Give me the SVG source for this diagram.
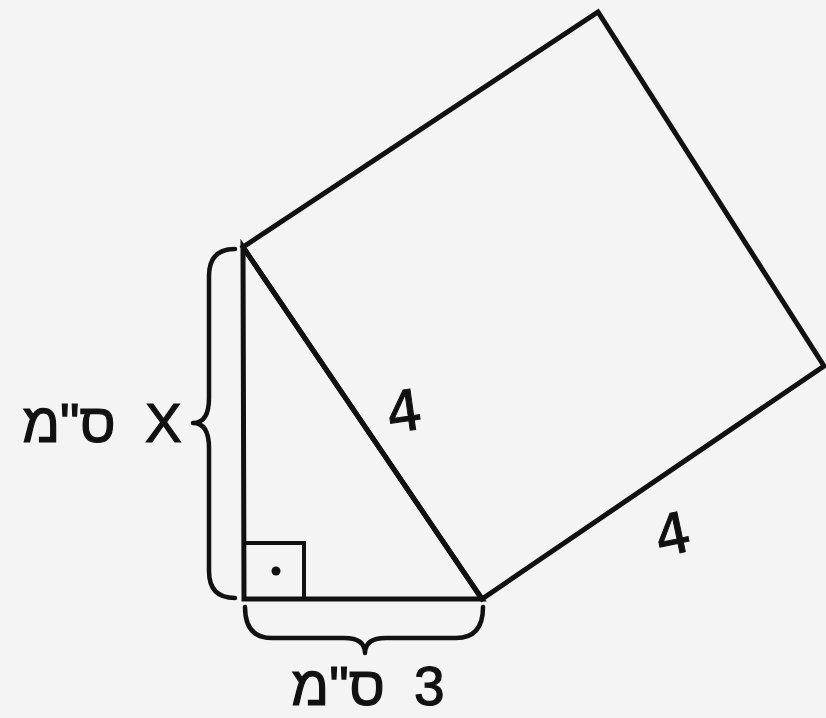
<svg xmlns="http://www.w3.org/2000/svg" width="826" height="718" viewBox="0 0 826 718">
<style>
.ln{fill:none;stroke:#111;stroke-width:5;stroke-linejoin:miter;stroke-linecap:round}
.br{fill:none;stroke:#111;stroke-width:4.5;stroke-linecap:round;stroke-linejoin:round}
.lbl{font-family:"Liberation Sans","DejaVu Sans",sans-serif;font-size:55px;fill:#111;stroke:#111;stroke-width:1.2}
.hand{font-family:"DejaVu Sans","Liberation Sans",sans-serif;font-size:56px;fill:#111;stroke:#111;stroke-width:1}
</style>
<rect x="0" y="0" width="826" height="718" fill="#f5f4f5"/>
<g id="square">
<polygon class="ln" points="243,247 598,12 824,366 482,599"/>
</g>
<g id="triangle">
<polygon class="ln" points="243,247 244,599 482,599"/>
<rect class="ln" x="244" y="543" width="60" height="56" style="stroke-width:4"/>
<circle cx="276" cy="571" r="4.5" fill="#111"/>
</g>
<g id="braces">
<path class="br" d="M235,249 Q209,249 209,276 L209,398 Q209,423 193,423 Q209,423 209,448 L209,571 Q209,598 235,598"/>
<path class="br" d="M245,607 Q245,638 272,638 L344,638 Q365,638 365,653 Q365,638 386,638 L456,638 Q483,638 483,607"/>
</g>
<g id="labels">
<text class="lbl" x="102" y="442" direction="rtl" text-anchor="middle" word-spacing="14">X ס"מ</text>
<text class="lbl" x="368" y="705" direction="rtl" text-anchor="middle" word-spacing="14">3 ס"מ</text>
<text class="hand" x="404" y="431" text-anchor="middle" transform="rotate(-8 404 410)">4</text>
<text class="hand" x="672" y="554" text-anchor="middle" transform="rotate(-12 672 532)">4</text>
</g>
</svg>
